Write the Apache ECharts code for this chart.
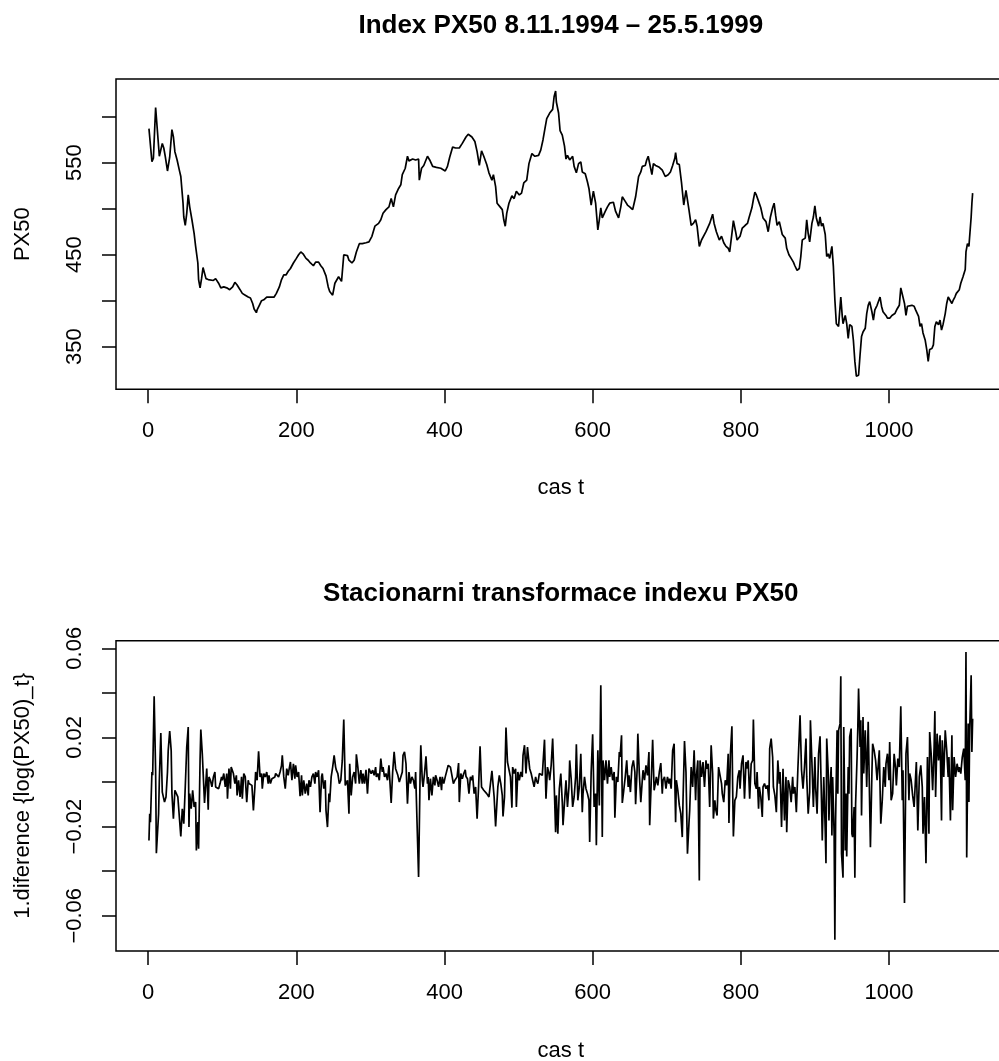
<!DOCTYPE html>
<html>
<head>
<meta charset="utf-8">
<title>Index PX50</title>
<script src="https://cdn.jsdelivr.net/npm/echarts@6/dist/echarts.min.js"></script>
<style>
  html, body { margin: 0; padding: 0; background: #fff; }
  #chart { width: 999px; height: 1061px; }
</style>
</head>
<body>
<div id="chart"></div>
<script>
// PX50 index level, [day, value]
const px50 = [
  [1,587],[5,551],[7,555],[10,610],[15,557],[17,558],[19,571],[21,566],[23,557],[26,541],[29,556],[32,586],[34,578],[36,562],[39,553],[42,542],[44,535],[47,506],[48,491],[50,482],
  [52,495],[54,515],[56,502],[59,488],[62,473],[64,459],[67,441],[68,423],[70,414],[72,424],[74,436],[76,434],[78,424],[81,423],[83,424],[88,422],[91,424],[95,419],[98,414],[102,415],
  [106,414],[110,412],[114,415],[117,420],[120,417],[124,412],[127,408],[131,406],[135,404],[138,403],[141,397],[143,391],[146,387],[147,390],[150,395],[153,400],[156,401],[160,404],[164,404],[167,404],
  [170,404],[173,408],[177,415],[180,423],[183,428],[186,428],[189,432],[192,435],[196,441],[200,446],[203,450],[206,453],[209,451],[213,446],[216,444],[219,441],[223,438],[226,442],[230,442],[233,438],
  [236,435],[240,427],[243,415],[245,410],[249,406],[252,419],[257,426],[261,421],[264,450],[269,449],[271,444],[275,441],[278,444],[281,453],[285,462],[289,462],[294,463],[298,464],[302,470],[306,481],
  [311,484],[314,488],[317,495],[321,499],[325,502],[328,511],[331,502],[334,515],[338,522],[341,526],[343,537],[347,544],[350,557],[352,552],[357,554],[361,553],[365,554],[366,531],[369,544],[372,547],
  [377,557],[380,553],[384,546],[389,545],[395,544],[401,541],[404,546],[407,556],[411,567],[415,566],[420,566],[424,571],[429,578],[432,581],[437,578],[441,573],[444,562],[447,547],[450,563],[453,557],
  [457,548],[460,539],[464,531],[466,537],[469,524],[471,506],[475,502],[478,499],[480,488],[482,481],[484,495],[487,506],[491,514],[494,511],[497,519],[501,515],[504,517],[507,528],[511,531],[514,549],
  [518,560],[522,557],[527,558],[530,564],[533,575],[536,589],[538,598],[540,600],[542,604],[546,608],[548,622],[550,628],[551,616],[554,604],[556,585],[559,580],[562,568],[564,554],[566,558],[569,553],
  [573,557],[575,546],[578,539],[581,549],[584,551],[586,540],[590,538],[593,529],[595,522],[598,504],[601,519],[604,506],[607,477],[609,488],[611,501],[613,490],[617,497],[620,502],[623,506],[628,507],
  [631,497],[635,490],[638,502],[640,513],[644,508],[647,504],[650,502],[654,499],[656,506],[658,513],[662,535],[665,540],[667,546],[671,547],[673,553],[675,557],[677,558],[680,537],[682,549],[685,547],
  [690,545],[694,542],[698,535],[702,537],[705,540],[708,547],[711,555],[712,561],[714,549],[717,548],[720,528],[723,504],[726,520],[728,522],[730,499],[733,482],[736,484],[739,488],[741,481],[744,459],
  [747,466],[749,468],[753,475],[755,473],[758,484],[762,494],[764,484],[767,475],[771,466],[774,470],[777,463],[780,459],[783,457],[785,453],[788,473],[790,487],[793,475],[795,466],[799,470],[802,479],
  [806,482],[809,484],[811,490],[815,501],[817,510],[819,518],[821,515],[824,508],[827,501],[830,490],[834,486],[837,475],[840,491],[843,501],[845,506],[847,493],[849,482],[852,486],[854,484],[856,472],
  [860,468],[862,457],[865,450],[868,446],[871,442],[873,438],[876,433],[879,435],[881,448],[883,466],[887,468],[889,488],[891,473],[893,464],[896,484],[898,491],[900,503],[902,490],[905,481],[907,491],
  [909,481],[911,484],[914,472],[916,448],[918,451],[920,446],[923,459],[925,437],[927,401],[929,375],[932,372],[933,383],[935,404],[937,383],[938,375],[941,384],[943,375],[945,359],[947,374],[950,372],
  [952,357],[954,334],[956,318],[959,319],[961,341],[963,361],[965,366],[968,370],[970,386],[972,395],[974,399],[977,388],[979,379],[981,390],[984,395],[988,404],[990,394],[992,388],[996,384],[998,381],
  [1001,381],[1004,384],[1006,384],[1008,386],[1011,391],[1014,395],[1016,414],[1018,412],[1021,397],[1023,384],[1025,394],[1027,395],[1031,395],[1034,394],[1036,390],[1040,383],[1042,372],[1044,375],[1046,365],[1049,357],
  [1051,347],[1053,334],[1055,347],[1058,348],[1060,352],[1062,372],[1064,377],[1067,374],[1069,379],[1071,368],[1073,374],[1076,386],[1078,397],[1080,404],[1082,406],[1085,397],[1087,401],[1089,404],[1091,408],[1095,412],
  [1097,419],[1100,426],[1103,434],[1104,453],[1106,462],[1108,459],[1109,470],[1111,491],[1112,506],[1113,517]
];

// first difference of log(PX50), [day, value]
const px50LogDiff = [
  [1,-0.0262],[2,-0.0142],[3,-0.018],[5,0.0045],[6,0.003],[8,0.0385],[10,0.005],[11,-0.0319],[14,-0.0142],[15,0.0008],[17,0.022],[19,-0.0045],[20,-0.0052],[22,-0.009],[24,-0.0067],[26,0.0045],[27,0.0142],[29,0.0229],[31,0.0142],[32,-0.0052],
  [34,-0.0164],[36,-0.0037],[37,-0.0045],[40,-0.0067],[42,-0.0075],[44,-0.0244],[46,-0.012],[48,-0.0187],[50,-0.0022],[52,0.0157],[54,0.0247],[55,-0.0202],[56,-0.0052],[58,-0.012],[60,-0.0037],[62,-0.0112],[64,-0.009],[65,-0.0307],[67,-0.018],[68,-0.0299],
  [70,0.0097],[71,0.0235],[73,0.0127],[76,-0.0094],[78,-0.0097],[79,0.006],[81,-0.0124],[82,0.0023],[84,0.0008],[86,-0.0022],[88,0.0023],[90,0.0045],[91,-0.0022],[93,-0.0015],[95,-0.003],[97,-0.0007],[99,0.0023],[100,0.0008],[102,0.0038],[104,-0.0022],
  [106,0.0038],[107,-0.0075],[109,0.006],[111,-0.003],[112,0.0067],[114,0.006],[115,0.0038],[117,-0.0007],[119,0.003],[120,-0.006],[122,0.0008],[124,-0.0067],[126,0.0023],[127,-0.0075],[129,0.0038],[131,0.0023],[133,-0.009],[135,0.0008],[136,-0.0007],[138,0],
  [140,-0.0015],[142,-0.0127],[144,-0.0022],[145,0.0045],[147,0.0008],[149,0.0138],[151,0.0023],[153,0.0038],[154,-0.003],[156,0.0038],[158,0.0023],[160,0.0045],[162,-0.0007],[163,0.003],[165,-0.0007],[167,0.0015],[169,0.0008],[171,0.0023],[172,0.0038],[174,0.0045],
  [176,0.0023],[178,0.0045],[180,0.0075],[181,0.012],[183,0.0023],[185,-0.003],[187,0.006],[189,0.003],[190,0.0053],[192,0.009],[194,0.0008],[196,0.0082],[198,0.0015],[199,0.0075],[201,0.0023],[203,0.0045],[205,-0.0064],[207,0.003],[208,-0.006],[210,0.0008],
  [212,-0.0052],[214,-0.0007],[216,-0.006],[217,0.0008],[219,-0.0022],[221,0.0023],[223,0.0038],[225,-0.0007],[226,0.0045],[228,0.0023],[230,0.0053],[232,-0.0135],[234,0.0023],[235,0.0038],[237,-0.003],[239,0.0008],[240,-0.0127],[242,-0.0202],[244,-0.0052],[245,-0.009],
  [247,0.0023],[249,0.0067],[251,0.012],[253,0.0067],[254,0.0053],[256,0.0038],[258,-0.0007],[260,0.0008],[262,0.0097],[264,0.028],[266,-0.0015],[267,-0.0007],[269,0.0008],[271,-0.0142],[272,0.0082],[274,-0.006],[276,0.0023],[278,0.0045],[280,-0.0007],[281,0.0124],
  [283,0.0067],[285,-0.0007],[287,0.0053],[289,-0.0007],[290,0.0038],[292,-0.0007],[294,0.0055],[296,-0.0052],[298,0.006],[299,0.0067],[301,0.0038],[303,0.0053],[305,0.003],[307,0.0067],[308,0.0023],[310,0.0038],[312,0.0008],[314,0.0105],[316,0.0045],[317,0.0067],
  [319,0.0023],[321,0.0038],[323,0.0008],[325,0.0075],[326,0.0082],[328,-0.0094],[330,0.0045],[332,0.0135],[334,0.006],[335,0.0053],[337,0.003],[339,0],[341,-0.0007],[343,0.0045],[344,0.012],[346,0.0135],[348,0.0082],[350,-0.0097],[352,0.0045],[354,-0.0007],
  [356,0.0023],[358,0.0008],[360,-0.003],[361,0.0045],[363,0.0038],[365,-0.0426],[367,0.0023],[368,0.0165],[370,0.0008],[371,-0.0022],[373,0.0038],[375,0.0115],[377,-0.0007],[378,0.0023],[379,-0.0082],[381,0.0015],[383,-0.006],[385,0.0023],[387,-0.0015],[388,0.003],
  [390,0.0008],[392,-0.0022],[394,0.0023],[396,-0.0037],[397,0.0023],[399,-0.0007],[401,0.0023],[403,0.003],[405,0.0075],[406,0.0082],[408,0.0067],[410,0.003],[412,-0.0007],[414,0.0008],[415,0.0008],[417,0.0023],[419,0.0085],[420,-0.009],[422,0.0038],[424,0.0015],
  [426,0.0038],[428,0.0055],[429,0.0025],[431,0.0015],[433,-0.0052],[435,0.0023],[437,0.0008],[438,0.003],[440,-0.0052],[442,-0.0022],[444,-0.0164],[446,-0.0022],[448,0.016],[450,-0.0022],[451,-0.003],[453,-0.0037],[455,-0.0045],[457,-0.0052],[459,-0.006],[460,-0.0067],
  [462,-0.0075],[464,0.005],[465,0.0045],[467,-0.0067],[469,-0.0199],[470,-0.0199],[472,-0.0022],[474,0.003],[476,-0.0007],[478,-0.006],[479,-0.0154],[481,-0.0067],[482,0.0097],[483,0.0244],[485,0.009],[487,0.0082],[489,0.0023],[491,-0.0115],[492,0.0067],[494,0.0038],
  [496,0.006],[497,-0.0112],[499,0.0045],[501,0.0008],[503,0.0045],[505,0.0023],[506,0.012],[508,0.0165],[510,0.0038],[512,0.0157],[514,0.009],[515,0.006],[517,0.0038],[519,0.0008],[521,-0.0022],[523,0.0023],[524,0.0008],[526,-0.0007],[528,0.0038],[530,0.0045],
  [532,0.003],[533,0.0023],[535,0.019],[537,-0.0075],[539,0.0067],[541,0.0038],[542,0.0008],[544,0.0075],[546,0.0195],[548,0],[550,-0.0225],[551,-0.006],[553,-0.0232],[555,-0.003],[557,0.0038],[559,-0.009],[560,-0.0194],[562,-0.009],[564,0.0008],[566,-0.0112],
  [568,-0.0022],[569,0.0097],[571,0.0015],[573,-0.0112],[575,-0.0067],[577,0.0023],[578,0.0169],[580,-0.0082],[582,-0.0022],[584,0.0127],[586,-0.0135],[587,-0.0052],[589,0.0023],[591,-0.003],[593,-0.0052],[595,-0.0082],[596,-0.0269],[598,0.0045],[600,0.0214],[602,-0.0112],
  [604,-0.0052],[605,-0.0284],[607,0.0142],[609,-0.0105],[611,0.0434],[613,-0.0247],[614,0.0097],[616,0.0008],[618,0.0097],[620,-0.0007],[622,0.0097],[623,0.0023],[625,0.0067],[627,0.0008],[629,0.0045],[630,-0.016],[632,0.0023],[634,0],[636,0.0135],[637,0.0112],
  [639,0.021],[640,-0.0094],[642,-0.0037],[644,0.0023],[646,0.0097],[648,-0.0022],[649,0.003],[651,-0.0045],[653,0.0067],[655,0.0097],[657,0.0045],[658,-0.01],[660,0.0053],[661,0.0217],[663,0.0038],[665,-0.009],[667,0.0008],[668,0.0053],[670,0.0008],[672,0.0075],
  [674,0.003],[676,0.0135],[677,-0.0194],[679,-0.0007],[681,0.019],[683,-0.0037],[685,0],[686,0.0023],[688,-0.0015],[690,0.0045],[692,0.0085],[694,-0.0052],[695,0.0008],[697,0.0023],[699,-0.003],[701,0.0023],[703,-0.0007],[704,0.0015],[706,-0.003],[708,0.0142],
  [710,0.0172],[712,-0.018],[713,0.0008],[715,-0.0037],[717,-0.0105],[719,-0.0142],[721,-0.0247],[722,-0.0082],[724,0.0184],[726,0.0045],[728,-0.0322],[730,-0.0187],[731,-0.0127],[733,0.0067],[735,-0.0022],[737,0.0142],[739,-0.0082],[740,0.0023],[742,0.0097],[744,-0.0442],
  [745,0.0097],[747,0.0023],[749,0.009],[751,-0.0022],[753,0.0097],[754,0.006],[756,0.0082],[758,-0.0112],[760,0.0165],[762,0.0038],[763,-0.0164],[765,-0.0082],[766,-0.012],[768,-0.015],[770,0.0067],[772,0.003],[774,-0.0007],[775,-0.0052],[777,-0.009],[779,0.0008],
  [781,-0.0015],[783,0.0127],[784,-0.0184],[786,0.0127],[788,0.025],[789,-0.0022],[790,-0.0244],[792,-0.0082],[794,-0.0067],[796,0.0023],[798,0.0053],[799,-0.003],[801,0.0082],[803,0.012],[805,-0.0075],[807,0.009],[808,0.006],[810,0.0097],[812,-0.0075],[814,0.0082],
  [816,0.0097],[817,0.028],[819,-0.0007],[821,-0.003],[822,0.0045],[824,-0.012],[825,-0.0022],[827,-0.0067],[829,-0.0157],[830,-0.0022],[832,-0.0007],[834,-0.003],[836,-0.0015],[838,-0.0082],[839,0.015],[841,0.0195],[843,0.0112],[844,-0.0022],[846,-0.006],[848,-0.0135],
  [850,0.0097],[852,-0.0007],[853,0.0045],[855,-0.0202],[857,0.006],[859,-0.0172],[861,0.0023],[862,-0.0225],[864,0.0008],[866,-0.0022],[868,-0.009],[870,0.0023],[871,-0.0052],[873,-0.0022],[875,-0.0135],[877,0.0053],[879,0.006],[880,0.0299],[882,0.0053],[884,-0.003],
  [886,0.0067],[888,0.0195],[889,0.0023],[891,-0.0142],[893,-0.0045],[894,0.0277],[896,0.009],[898,-0.0112],[900,0.0112],[901,-0.0022],[903,-0.0142],[905,0.0127],[907,0.0205],[909,-0.009],[910,-0.0262],[912,0.0023],[914,-0.0217],[915,-0.0364],[916,0.0195],[918,0.0045],
  [919,-0.0172],[920,-0.0052],[922,0.0067],[923,-0.024],[924,0.0023],[926,-0.0232],[927,-0.0708],[928,-0.0172],[930,0.0232],[931,-0.0052],[932,0.0232],[934,0.0262],[935,0.0474],[936,-0.0322],[938,-0.0429],[939,0.0247],[941,-0.0307],[942,-0.0052],[943,-0.0334],[945,0.0067],
  [946,-0.0052],[947,0.0202],[949,0.024],[950,-0.0232],[951,-0.0247],[953,-0.0112],[954,-0.0429],[955,-0.0097],[957,0.0112],[958,0.0247],[959,0.0419],[961,0.0157],[962,0.0277],[963,-0.015],[965,0.0292],[966,0.0038],[968,0.0232],[970,-0.0022],[972,0.027],[973,0.0082],
  [975,-0.0292],[977,0.0038],[978,0.0172],[980,0.0142],[982,0.0097],[984,0.0008],[986,0.0097],[987,0.0142],[989,-0.0187],[991,-0.0082],[993,0.0067],[995,-0.0022],[996,0.0082],[998,0.0127],[1000,0.0008],[1001,0.018],[1003,-0.0082],[1005,-0.0052],[1007,0.0127],[1009,0.006],
  [1010,-0.0015],[1012,0.0105],[1014,0.0067],[1016,0.034],[1018,-0.0082],[1019,0.0053],[1021,-0.0543],[1023,0.0127],[1025,0.0202],[1027,-0.0082],[1028,0.0038],[1030,0.0008],[1032,-0.006],[1034,-0.0112],[1036,0.0023],[1037,0.009],[1039,-0.0217],[1041,0.0023],[1043,0.0075],[1045,-0.0022],
  [1046,-0.0232],[1048,-0.0067],[1050,-0.0364],[1052,0.0112],[1054,-0.0232],[1055,0.0224],[1057,0.0127],[1059,-0.0037],[1061,0.0157],[1062,0.0318],[1063,-0.0067],[1065,0.0217],[1067,0.0097],[1069,0.021],[1071,-0.0172],[1072,0.0187],[1074,0.0023],[1076,0.0232],[1078,0.0142],[1080,0.0023],
  [1081,0.0112],[1083,-0.0172],[1085,0.021],[1086,-0.0127],[1088,0.0112],[1090,0.0023],[1092,0.0082],[1094,0.0045],[1095,0.0067],[1097,0.0038],[1099,0.0112],[1101,0.015],[1103,0.0008],[1104,0.0583],[1105,-0.0338],[1107,0.0262],[1108,-0.009],[1109,0.0232],[1111,0.0479],[1112,0.0135],
  [1113,0.0284]
];

const dayTicks = [0, 200, 400, 600, 800, 1000];
const levelTicks = [350, 400, 450, 500, 550, 600];
const levelLabels = [350, 450, 550];
const diffTicks = [-0.06, -0.04, -0.02, 0, 0.02, 0.04, 0.06];
const diffLabels = [-0.06, -0.02, 0.02, 0.06];

const FONT = '"Liberation Sans", Arial, Helvetica, sans-serif';
const PLOT_LEFT = 116;
const PLOT_WIDTH = 889.6;
const PLOT_HEIGHT = 310.3;
const PLOT_CENTER = PLOT_LEFT + PLOT_WIDTH / 2;

const axisText = { fontFamily: FONT, fontSize: 22, color: '#000' };
const blackLine = { color: '#000', width: 1.5 };
const dataLine = { color: '#000', width: 1.7 };

function plainNumber(v) {
  return String(v);
}

function minusFormat(v) {
  return v < 0 ? '\u2212' + String(Math.abs(v)) : String(v);
}

function dayAxis(gridIndex, nameGap) {
  return {
    type: 'value',
    gridIndex: gridIndex,
    min: -43.5,
    max: 1157.5,
    name: 'cas t',
    nameLocation: 'middle',
    nameGap: nameGap,
    nameTextStyle: axisText,
    axisLine: { show: false, onZero: false },
    axisTick: { show: true, length: 14, customValues: dayTicks, lineStyle: blackLine },
    axisLabel: Object.assign({ customValues: dayTicks, margin: 31, formatter: plainNumber }, axisText),
    splitLine: { show: false }
  };
}

function valueAxis(gridIndex, min, max, ticks, labels, name, fmt) {
  return {
    type: 'value',
    gridIndex: gridIndex,
    min: min,
    max: max,
    name: name,
    nameLocation: 'middle',
    nameGap: 82,
    nameTextStyle: axisText,
    axisLine: { show: false, onZero: false },
    axisTick: { show: true, length: 14, customValues: ticks, lineStyle: blackLine },
    axisLabel: Object.assign({ customValues: labels, margin: 30, rotate: 90, formatter: fmt }, axisText),
    splitLine: { show: false }
  };
}

const titleStyle = { fontFamily: FONT, fontSize: 26, fontWeight: 'bold', color: '#000' };

const chart = echarts.init(document.getElementById('chart'), null, { renderer: 'canvas' });
chart.setOption({
  animation: false,
  backgroundColor: '#fff',
  textStyle: { fontFamily: FONT },
  title: [
    { text: 'Index PX50 8.11.1994 \u2013 25.5.1999', left: PLOT_CENTER, top: 12.6, textAlign: 'center', padding: 0, textStyle: titleStyle },
    { text: 'Stacionarni transformace indexu PX50', left: PLOT_CENTER, top: 580.5, textAlign: 'center', padding: 0, textStyle: titleStyle }
  ],
  grid: [
    { left: PLOT_LEFT, top: 79, width: PLOT_WIDTH, height: PLOT_HEIGHT, show: true, borderColor: '#000', borderWidth: 1.5, backgroundColor: 'transparent', outerBoundsMode: 'none' },
    { left: PLOT_LEFT, top: 640.7, width: PLOT_WIDTH, height: PLOT_HEIGHT, show: true, borderColor: '#000', borderWidth: 1.5, backgroundColor: 'transparent', outerBoundsMode: 'none' }
  ],
  xAxis: [dayAxis(0, 88), dayAxis(1, 89)],
  yAxis: [
    valueAxis(0, 303.7, 641, levelTicks, levelLabels, 'PX50', plainNumber),
    valueAxis(1, -0.0758, 0.0634, diffTicks, diffLabels, '1.diference {log(PX50)_t}', minusFormat)
  ],
  series: [
    {
      type: 'line', xAxisIndex: 0, yAxisIndex: 0, data: px50,
      symbol: 'none', showSymbol: false, lineStyle: dataLine
    },
    {
      type: 'line', xAxisIndex: 1, yAxisIndex: 1, data: px50LogDiff,
      symbol: 'none', showSymbol: false, lineStyle: dataLine
    }
  ]
});
</script>
</body>
</html>
